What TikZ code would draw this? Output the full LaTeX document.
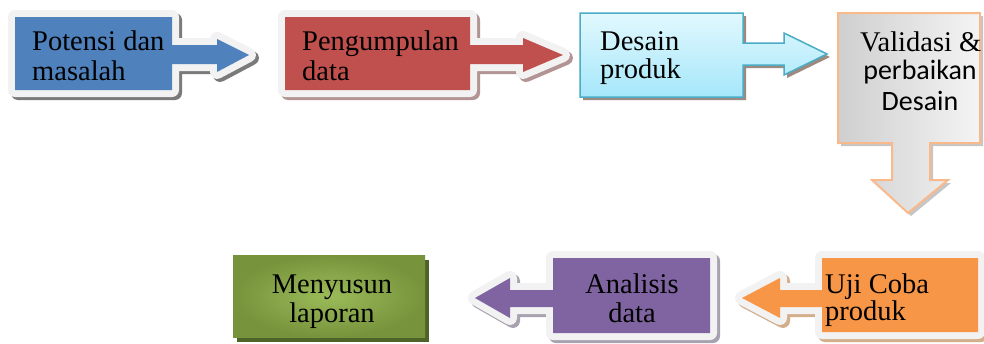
\documentclass[tikz,border=0pt]{standalone}
\usepackage{fontspec}
\setmainfont{Liberation Serif}
\newfontfamily\calib{Carlito}
\definecolor{bord}{HTML}{F2F2F2}
\definecolor{cblue}{HTML}{4F81BD}
\definecolor{cred}{HTML}{C0504D}
\definecolor{corange}{HTML}{F79646}
\definecolor{cpurple}{HTML}{8064A2}
\definecolor{shblue}{HTML}{7A7A7A}
\definecolor{shred}{HTML}{B39494}
\definecolor{shorange}{HTML}{D2AE8A}
\definecolor{shpurple}{HTML}{A8A2B0}
\definecolor{cyanedge}{HTML}{4BACC6}
\definecolor{cyantop}{HTML}{E2F8FE}
\definecolor{cyanbot}{HTML}{A5E7FA}
\definecolor{shcyan}{HTML}{9C8A80}
\definecolor{peach}{HTML}{F9B98A}
\definecolor{gtop}{HTML}{CFCFCF}
\definecolor{gbot}{HTML}{F4F4F4}
\definecolor{ginner}{HTML}{9BBB59}
\definecolor{gouter}{HTML}{77933C}
\definecolor{gshadow}{HTML}{4F6228}
\newcommand\wcallout[3]{%
  \draw[line width=14pt, line join=round, draw=#3, fill=#3, shift={(3,3)}] #1;
  \draw[line width=14pt, line join=round, draw=bord, fill=bord] #1;
  \fill[#2] #1;
}
\begin{document}
\begin{tikzpicture}[x=1pt,y=-1pt,
  txt/.style={inner sep=0pt, font=\fontsize{28.5}{30}\selectfont},
  stxt/.style={inner sep=0pt, font=\calib\fontsize{28}{30}\selectfont}]
\useasboundingbox[fill=white] (0,0) rectangle (984,343);

% Box 1
\wcallout{(15,17) -- (172,17) -- (172,45) -- (217,45) -- (217,39) -- (249,55) -- (217,72) -- (217,64) -- (172,64) -- (172,90) -- (15,90) -- cycle}{cblue}{shblue}
% Box 2
\wcallout{(285,17) -- (470,17) -- (470,45) -- (523,45) -- (523,38) -- (563,55) -- (523,72) -- (523,64) -- (470,64) -- (470,90) -- (285,90) -- cycle}{cred}{shred}
% Box 3
\fill[shcyan, shift={(3,3)}] (580,13) -- (743,13) -- (743,43) -- (784,43) -- (784,33) -- (827,54) -- (784,75) -- (784,65) -- (743,65) -- (743,97) -- (580,97) -- cycle;
\shade[top color=cyantop, bottom color=cyanbot, draw=cyanedge, line width=1.5pt]
  (580,13) -- (743,13) -- (743,43) -- (784,43) -- (784,33) -- (827,54) -- (784,75) -- (784,65) -- (743,65) -- (743,97) -- (580,97) -- cycle;
% Box 4
\fill[gray!45, shift={(3,3)}] (838,13) -- (980,13) -- (980,143) -- (930,143) -- (930,180) -- (948,180) -- (908,213) -- (872,180) -- (892,180) -- (892,143) -- (838,143) -- cycle;
\shade[left color=gtop, right color=gbot, draw=peach, line width=2pt]
  (838,13) -- (980,13) -- (980,143) -- (930,143) -- (930,180) -- (948,180) -- (908,213) -- (872,180) -- (892,180) -- (892,143) -- (838,143) -- cycle;
% Box 5
\wcallout{(978,258) -- (978,332) -- (822,332) -- (822,307) -- (780,307) -- (780,318) -- (742,298) -- (780,278) -- (780,290) -- (822,290) -- (822,258) -- cycle}{corange}{shorange}
% Box 6
\wcallout{(710,258) -- (710,333) -- (553,333) -- (553,307) -- (510,307) -- (510,318) -- (475,298) -- (510,278) -- (510,290) -- (553,290) -- (553,258) -- cycle}{cpurple}{shpurple}
% Box 7
\fill[gshadow] (237,260) rectangle (429,342);
\shade[inner color=ginner, outer color=gouter] (233,255) rectangle (425,337);

% Texts
\node[txt, anchor=base west] (t1a) at (32,50) {Potensi dan};
\node[txt, anchor=base west] (t1b) at (32,80) {masalah};
\node[txt, anchor=base west] (t2a) at (302,50) {Pengumpulan};
\node[txt, anchor=base west] (t2b) at (302,80) {data};
\node[txt, anchor=base west] (t3a) at (600,50) {Desain};
\node[txt, anchor=base west] (t3b) at (600,78) {produk};
\node[txt, anchor=base west] (t4a) at (860,51) {Validasi \&};
\node[stxt, anchor=base] (t4b) at (920,79) {perbaikan};
\node[stxt, anchor=base] (t4c) at (920,110) {Desain};
\node[txt, anchor=base west] (t5a) at (825,293) {Uji Coba};
\node[txt, anchor=base west] (t5b) at (825,320) {produk};
\node[txt, anchor=base] (t6a) at (632,293) {Analisis};
\node[txt, anchor=base] (t6b) at (632,322) {data};
\node[txt, anchor=base] (t7a) at (332,293) {Menyusun};
\node[txt, anchor=base] (t7b) at (332,322) {laporan};
\end{tikzpicture}
\end{document}
